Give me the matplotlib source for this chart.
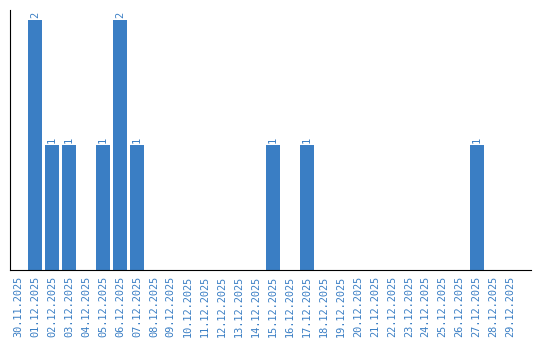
import matplotlib
matplotlib.use("Agg")
import matplotlib.pyplot as plt
import pandas as pd

dates = pd.date_range("2025-11-30", "2025-12-29", freq="D")
labels = [d.strftime("%d.%m.%Y") for d in dates]
counts = [0, 2, 1, 1, 0, 1, 2, 1, 0, 0,
          0, 0, 0, 0, 0, 1, 0, 1, 0, 0,
          0, 0, 0, 0, 0, 0, 0, 1, 0, 0]

blue = "#3a7ec4"
fig = plt.figure(figsize=(5.4, 3.4), dpi=100)
ax = fig.add_axes([10 / 540, 70 / 340, 521 / 540, 260 / 340])

x = list(range(len(labels)))
ax.bar(x, counts, width=0.82, color=blue)
# value labels above the bars
for xi, c in zip(x, counts):
    if c > 0:
        ax.text(xi, c + 0.02, str(c), rotation=90, ha="center", va="bottom",
                color=blue, fontsize=7.5, family="DejaVu Sans Mono")

ax.set_xlim(-0.47, 30.2)
ax.set_ylim(0, 2.08)
ax.set_xticks(x)
ax.set_xticklabels(labels, rotation=90, color=blue, fontsize=7.4,
                   family="DejaVu Sans Mono")
ax.tick_params(axis="x", length=0, pad=4)
ax.set_yticks([])
ax.spines["top"].set_visible(False)
ax.spines["right"].set_visible(False)

fig.savefig("out.png", dpi=100)
